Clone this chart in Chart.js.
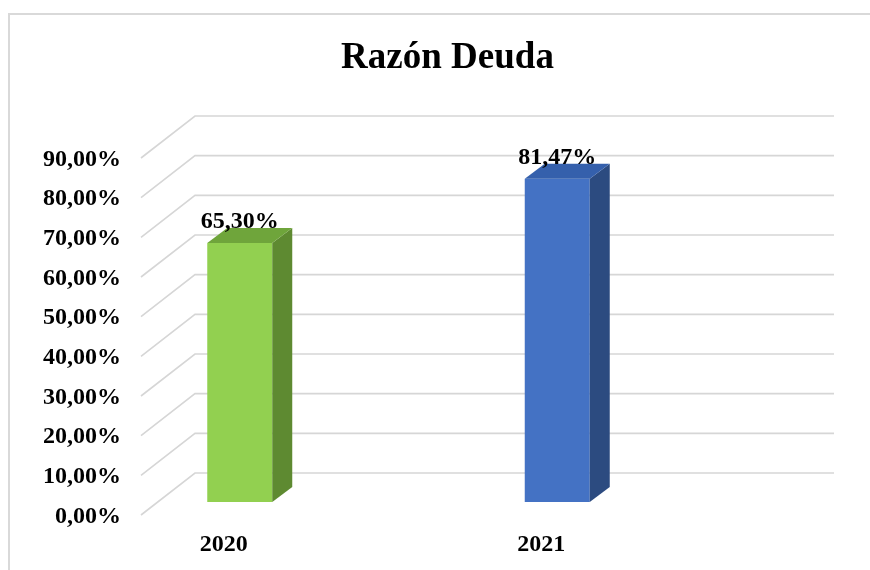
<!DOCTYPE html>
<html>
<head>
<meta charset="utf-8">
<script src="https://cdn.jsdelivr.net/npm/chart.js@4"></script>
<style>
  html, body { margin: 0; padding: 0; background: #ffffff; }
  #wrap { width: 870px; height: 570px; }
</style>
</head>
<body>
<div id="wrap"><canvas id="c" width="870" height="570"></canvas></div>
<script>
const titleText = 'Razón Deuda';
const categories = ['2020', '2021'];
const razonDeuda = [65.30, 81.47];
const yTickMin = 0;
const yTickMax = 90;
const yTickStep = 10;
const frontColors = ['#92D050', '#4472C4'];
const topColors = ['#6FA53B', '#3560AC'];
const sideColors = ['#5E8A31', '#2C4B80'];

const FONT = "'Liberation Serif', 'Times New Roman', serif";
const fmtPct = v => v.toFixed(2).replace('.', ',') + '%';

const threeD = {
  id: 'threeD',
  beforeDraw(chart) {
    const ctx = chart.ctx;
    ctx.save();
    ctx.strokeStyle = '#d9d9d9';
    ctx.lineWidth = 2;
    ctx.beginPath();
    ctx.moveTo(9, 570);
    ctx.lineTo(9, 14);
    ctx.lineTo(870, 14);
    ctx.stroke();
    ctx.restore();
  },
  beforeDatasetsDraw(chart) {
    const ctx = chart.ctx;
    const ys = chart.scales.y;
    const area = chart.chartArea;
    const backLeft = area.left - 44.75;
    const backRight = area.right + 276.75;
    ctx.save();
    ctx.strokeStyle = '#d6d6d6';
    ctx.lineWidth = 1.6;
    ys.ticks.forEach(t => {
      const y = ys.getPixelForValue(t.value) - 29;
      ctx.beginPath();
      ctx.moveTo(backLeft - 54, y + 42);
      ctx.lineTo(backLeft, y);
      ctx.lineTo(backRight, y);
      ctx.stroke();
    });
    ctx.restore();
  },
  afterDatasetsDraw(chart) {
    const ctx = chart.ctx;
    const meta = chart.getDatasetMeta(0);
    const dx = 20, dy = 15;
    ctx.save();
    meta.data.forEach((bar, i) => {
      const p = bar.getProps(['x', 'y', 'base', 'width'], true);
      const l = p.x - p.width / 2, r = p.x + p.width / 2;
      const top = p.y, bot = p.base;
      ctx.fillStyle = sideColors[i];
      ctx.beginPath();
      ctx.moveTo(r, top);
      ctx.lineTo(r + dx, top - dy);
      ctx.lineTo(r + dx, bot - dy);
      ctx.lineTo(r, bot);
      ctx.closePath();
      ctx.fill();
      ctx.fillStyle = topColors[i];
      ctx.beginPath();
      ctx.moveTo(l, top);
      ctx.lineTo(l + dx, top - dy);
      ctx.lineTo(r + dx, top - dy);
      ctx.lineTo(r, top);
      ctx.closePath();
      ctx.fill();
      ctx.fillStyle = '#000';
      ctx.font = 'bold 24px ' + FONT;
      ctx.textAlign = 'center';
      ctx.textBaseline = 'alphabetic';
      ctx.fillText(fmtPct(razonDeuda[i]), p.x, top - 15);
    });
    ctx.restore();
  }
};

new Chart(document.getElementById('c'), {
  type: 'bar',
  data: {
    labels: categories,
    datasets: [{
      data: razonDeuda,
      backgroundColor: frontColors,
      borderWidth: 0,
      barPercentage: 0.2047,
      categoryPercentage: 1,
      clip: false
    }]
  },
  options: {
    responsive: false,
    devicePixelRatio: 1,
    animation: false,
    layout: { padding: { left: 25, right: 0, top: 0, bottom: 0 } },
    plugins: {
      legend: { display: false },
      tooltip: { enabled: false },
      title: {
        display: true,
        text: titleText,
        color: '#000',
        font: { family: FONT, size: 37, weight: 'bold' },
        padding: { top: 36.5, bottom: 64.1 }
      }
    },
    scales: {
      x: {
        offset: false,
        grid: { display: false, drawTicks: false },
        border: { display: false },
        ticks: {
          color: '#000',
          font: { family: FONT, size: 24, weight: 'bold' },
          padding: 28,
          labelOffset: -16,
          maxRotation: 0,
          autoSkip: false
        },
        afterFit(s) { s.height = 68; s.paddingLeft = 0; s.paddingRight = 0; }
      },
      y: {
        position: 'left',
        min: yTickMin,
        max: yTickMax,
        grid: { display: false, drawTicks: false },
        border: { display: false },
        ticks: {
          stepSize: yTickStep,
          color: '#000',
          font: { family: FONT, size: 24, weight: 'bold' },
          padding: 118.75,
          labelOffset: 14.5,
          callback: v => fmtPct(v)
        },
        afterFit(s) { s.width = 214.75; s.paddingTop = 0; s.paddingBottom = 0; }
      },
      yR: {
        type: 'linear',
        position: 'right',
        display: true,
        grid: { display: false, drawTicks: false },
        border: { display: false },
        ticks: { display: false },
        afterFit(s) { s.width = 312.75; s.paddingTop = 0; s.paddingBottom = 0; }
      }
    }
  },
  plugins: [threeD]
});
</script>
</body>
</html>
